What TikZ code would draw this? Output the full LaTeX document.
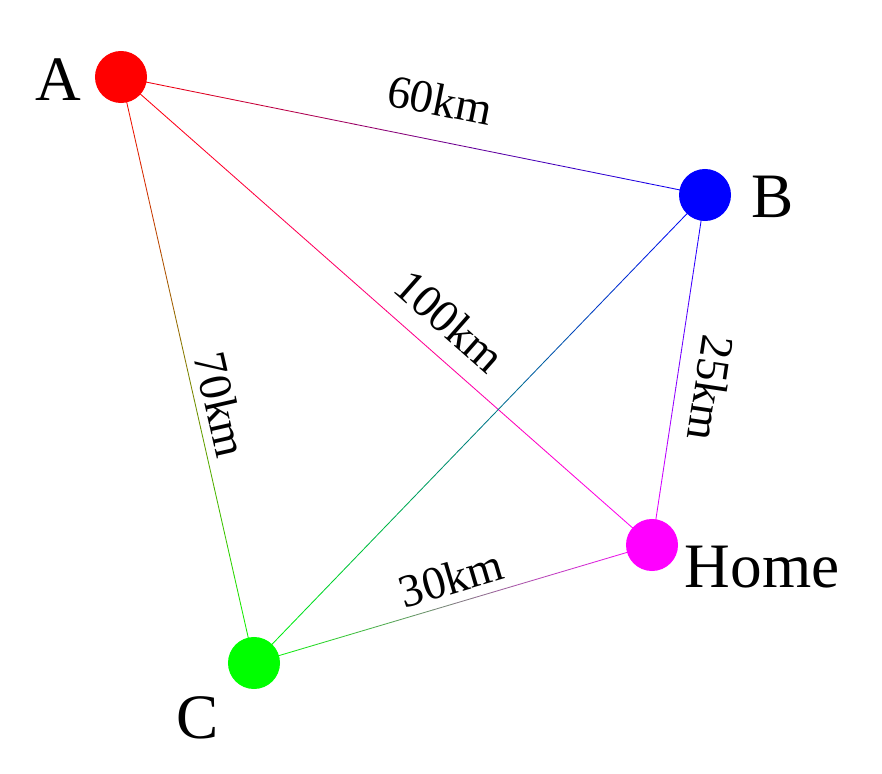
\documentclass[tikz,border=0pt]{standalone}
\usepackage{fontspec}
\setmainfont{Liberation Serif}
\usetikzlibrary{calc}

\definecolor{homepink}{RGB}{255,0,255}
\definecolor{cgreen}{RGB}{0,255,0}

\tikzset{
    dot/.style={circle, minimum size=1.3cm, inner sep=0pt},
    city/.style={font=\fontsize{45}{50}\selectfont},
    dist/.style={font=\fontsize{33}{38}\selectfont, inner sep=0pt},
    edge/.style={line width=0.6pt, line cap=round}
}

% line fading from one colour to another
\newcommand{\fadeline}[4]{%
    \foreach \i [evaluate=\i as \p using int(98-5*\i)] in {0,...,19}
        \draw[edge, #3!\p!#4] ($(#1)!\i/20!(#2)$) -- ($(#1)!\i/20+0.05!(#2)$);
}

\begin{document}
\begin{tikzpicture}[x=0.025cm, y=-0.025cm]
    \useasboundingbox (0,0) rectangle (882,774);

    \coordinate (a) at (121,77);
    \coordinate (b) at (705,195);
    \coordinate (h) at (652,545);
    \coordinate (c) at (254,663);

    \fadeline{a}{b}{red}{blue}
    \fadeline{a}{h}{red}{homepink}
    \fadeline{a}{c}{red}{cgreen}
    \fadeline{b}{h}{blue}{homepink}
    \fadeline{b}{c}{blue}{cgreen}
    \fadeline{c}{h}{cgreen}{homepink}

    \node[dot, fill=red] (A) at (a) {};
    \node[dot, fill=blue] (B) at (b) {};
    \node[dot, fill=homepink] (H) at (h) {};
    \node[dot, fill=cgreen] (C) at (c) {};

    \node[city] (labA) at (58,80) {A};
    \node[city] (labB) at (773,197) {B};
    \node[city] (labH) at (762,567) {Home};
    \node[city] (labC) at (198,718) {C};

    \node[dist, rotate=-11.4] (d60) at (440,100) {60km};
    \node[dist, rotate=-41.4] (d100) at (450,321) {100km};
    \node[dist, rotate=-77.2] (d70) at (221,405) {70km};
    \node[dist, rotate=-98.6] (d25) at (711,388) {25km};
    \node[dist, rotate=16.5] (d30) at (451,578) {30km};
\end{tikzpicture}
\end{document}
